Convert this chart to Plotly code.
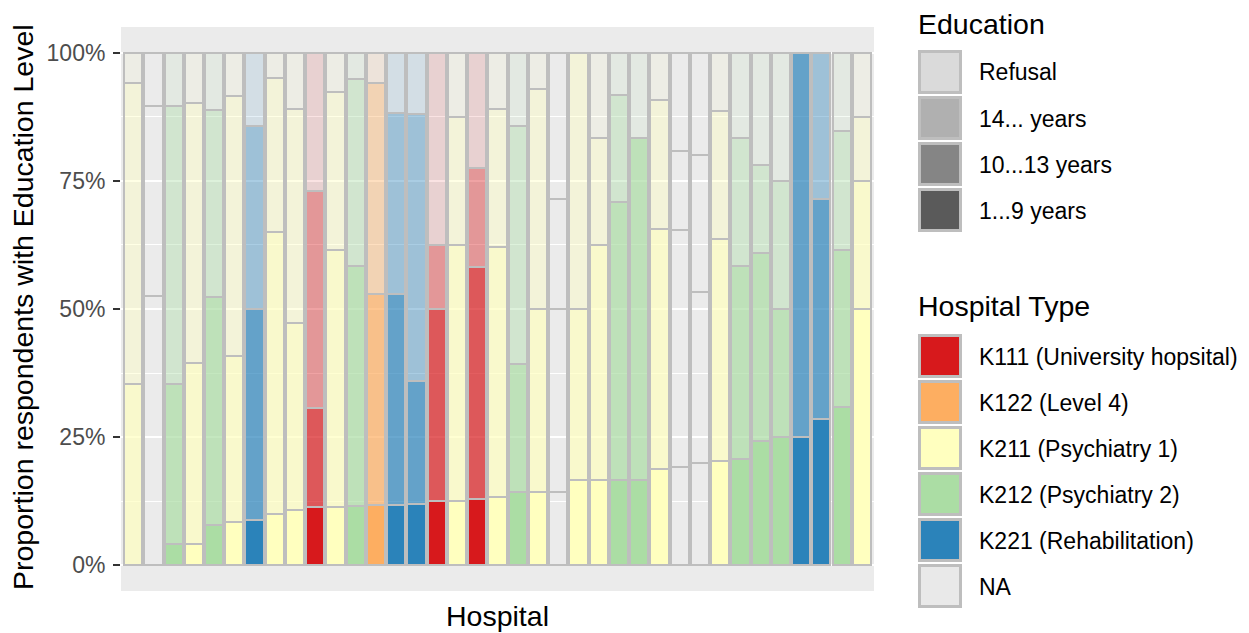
import plotly.graph_objects as go

# ---- data: share of respondents per education level, per hospital (percent) ----
hospitals = [f"H{i:02d}" for i in range(1, 38)]
hospital_type = [
    "K211", "NA", "K212", "K211", "K212", "K211", "K221", "K211", "K211", "K111",
    "K211", "K212", "K122", "K221", "K221", "K111", "K211", "K111", "K211", "K212",
    "K211", "NA", "K211", "K211", "K212", "K212", "K211", "NA", "NA", "K211",
    "K212", "K212", "K212", "K221", "K221", "K212", "K211",
]
pct_1_9 = [
    0.0, 0.0, 4.2, 4.2, 7.9, 8.4, 8.9, 10.0, 10.8, 11.4,
    11.4, 11.6, 11.8, 11.8, 11.9, 12.5, 12.5, 12.9, 13.4, 14.3,
    14.3, 14.3, 16.7, 16.7, 16.7, 16.7, 18.8, 19.2, 20.0, 20.3,
    20.8, 24.3, 25.0, 25.0, 28.6, 30.8, 50.0,
]
pct_10_13 = [
    35.3, 52.5, 31.1, 35.2, 44.4, 32.4, 41.1, 55.0, 36.5, 19.3,
    50.1, 46.7, 41.2, 41.1, 24.1, 37.5, 50.0, 45.2, 48.6, 25.0,
    35.7, 35.7, 33.3, 45.8, 54.2, 66.7, 46.9, 46.2, 33.3, 43.3,
    37.5, 36.7, 25.0, 75.0, 42.8, 30.8, 25.0,
]
pct_14_plus = [
    58.8, 37.0, 54.2, 50.7, 36.5, 50.7, 35.7, 30.0, 41.8, 42.3,
    30.8, 36.6, 41.1, 35.3, 52.0, 12.5, 25.0, 19.4, 27.1, 46.3,
    42.9, 21.4, 50.0, 20.8, 20.8, 0.0, 25.0, 15.4, 26.7, 25.0,
    25.0, 17.0, 25.0, 0.0, 28.6, 23.1, 12.5,
]
pct_refusal = [
    5.9, 10.5, 10.5, 9.9, 11.2, 8.5, 14.3, 5.0, 10.9, 27.0,
    7.7, 5.1, 5.9, 11.8, 12.0, 37.5, 12.5, 22.5, 10.9, 14.4,
    7.1, 28.6, 0.0, 16.7, 8.3, 16.6, 9.3, 19.2, 20.0, 11.4,
    16.7, 22.0, 25.0, 0.0, 0.0, 15.3, 12.5,
]

edu_levels = ["1...9 years", "10...13 years", "14... years", "Refusal"]
edu_values = [pct_1_9, pct_10_13, pct_14_plus, pct_refusal]

type_codes = ["K111", "K122", "K211", "K212", "K221", "NA"]
type_labels = [
    "K111 (University hopsital)", "K122 (Level 4)", "K211 (Psychiatry 1)",
    "K212 (Psychiatry 2)", "K221 (Rehabilitation)", "NA",
]

# ---- styling ----
FONT = "Liberation Sans, Arial, sans-serif"
TITLE_SIZE = 28.5
TEXT_SIZE = 23
PANEL_BG = "#EBEBEB"
OUTLINE = "#BEBEBE"
type_colors = {
    "K111": "#D7191C", "K122": "#FDAE61", "K211": "#FFFFBF",
    "K212": "#ABDDA4", "K221": "#2B83BA", "NA": None,
}
edu_alpha = [1.0, 0.7, 0.4, 0.12]


def rgba(hex_color, a):
    if hex_color is None:
        return "rgba(0,0,0,0)"
    h = hex_color.lstrip("#")
    r, g, b = int(h[0:2], 16), int(h[2:4], 16), int(h[4:6], 16)
    return f"rgba({r},{g},{b},{a})"


fig = go.Figure()
for level, vals, a in zip(edu_levels, edu_values, edu_alpha):
    fig.add_trace(go.Bar(
        x=hospitals,
        y=vals,
        name=level,
        width=0.9,
        marker=dict(
            color=[rgba(type_colors[t], a) for t in hospital_type],
            line=dict(color=OUTLINE, width=2),
        ),
        showlegend=False,
    ))

# panel geometry in pixels (for the hand-built legend and titles)
W, H = 1249, 633
PX0, PX1, PY0, PY1 = 121, 874, 27, 591


def px(x):
    return (x - PX0) / (PX1 - PX0)


def py(y):
    return (PY1 - y) / (PY1 - PY0)


shapes = []
annotations = []

# axis titles
annotations.append(dict(
    text="Hospital", x=px(497.5), y=py(616), xref="paper", yref="paper",
    xanchor="center", yanchor="middle", showarrow=False,
    font=dict(family=FONT, size=TITLE_SIZE, color="black"),
))
annotations.append(dict(
    text="Proportion respondents with Education Level", x=px(23), y=py(307),
    xref="paper", yref="paper", xanchor="center", yanchor="middle",
    textangle=-90, showarrow=False,
    font=dict(family=FONT, size=TITLE_SIZE, color="black"),
))


def legend_block(title, title_y, labels, fills, first_center):
    annotations.append(dict(
        text=title, x=px(916), y=py(title_y), xref="paper", yref="paper",
        xanchor="left", yanchor="middle", showarrow=False,
        font=dict(family=FONT, size=TITLE_SIZE, color="black"),
    ))
    for i, (lab, fill) in enumerate(zip(labels, fills)):
        c = first_center + 46 * i
        shapes.append(dict(
            type="rect", xref="paper", yref="paper",
            x0=px(919.5), x1=px(960.5), y0=py(c + 20.5), y1=py(c - 20.5),
            fillcolor=fill, line=dict(color=OUTLINE, width=3), layer="above",
        ))
        annotations.append(dict(
            text=lab, x=px(977), y=py(c + 0.5), xref="paper", yref="paper",
            xanchor="left", yanchor="middle", showarrow=False,
            font=dict(family=FONT, size=TEXT_SIZE, color="black"),
        ))


legend_block(
    "Education", 23.5,
    ["Refusal", "14... years", "10...13 years", "1...9 years"],
    ["#DADADA", "#B0B0B0", "#858585", "#5A5A5A"],
    72,
)
legend_block(
    "Hospital Type", 305.5,
    type_labels,
    [type_colors[t] if type_colors[t] else "#E9E9E9" for t in type_codes],
    356,
)

fig.update_layout(
    width=W, height=H,
    margin=dict(l=PX0, r=W - PX1, t=PY0, b=H - PY1, autoexpand=False),
    barmode="stack",
    plot_bgcolor=PANEL_BG,
    paper_bgcolor="white",
    font=dict(family=FONT),
    shapes=shapes,
    annotations=annotations,
    showlegend=False,
)
fig.update_xaxes(
    type="category", range=[-0.6, len(hospitals) - 0.4],
    showticklabels=False, ticks="", showgrid=False, zeroline=False,
    showline=False, fixedrange=True,
)
fig.update_yaxes(
    range=[-5, 105],
    tickvals=[0, 25, 50, 75, 100],
    ticktext=["0%", "25%", "50%", "75%", "100%"],
    ticks="outside", ticklen=7, tickwidth=2, tickcolor="#333333",
    ticklabelstandoff=3,
    tickfont=dict(family=FONT, size=TEXT_SIZE, color="#4D4D4D"),
    showgrid=True, gridcolor="white", gridwidth=2,
    minor=dict(tick0=0, dtick=12.5, showgrid=True, gridcolor="white", gridwidth=1),
    zeroline=False, showline=False, fixedrange=True,
)

fig.write_html("out.html")
